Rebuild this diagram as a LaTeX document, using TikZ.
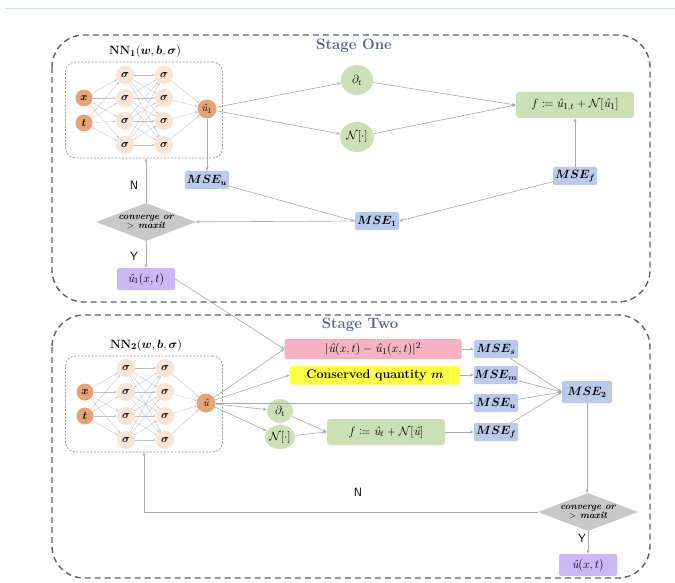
\documentclass[tikz,border=0pt]{standalone}
\usepackage{amsmath,amssymb,mathtools,bm}
\usetikzlibrary{shapes.geometric,arrows.meta}
\newcommand{\uh}{\text{\normalfont\itshape û}}
\definecolor{lineg}{RGB}{170,170,170}
\definecolor{dashc}{RGB}{92,98,114}
\definecolor{inorange}{RGB}{230,164,118}
\definecolor{hidpeach}{RGB}{250,228,212}
\definecolor{greenf}{RGB}{204,224,184}
\definecolor{bluef}{RGB}{186,202,234}
\definecolor{purpf}{RGB}{204,184,246}
\definecolor{pinkf}{RGB}{244,178,194}
\definecolor{yellf}{RGB}{255,255,70}
\definecolor{diamf}{RGB}{200,200,200}
\definecolor{stagec}{RGB}{72,100,150}
\definecolor{topg}{RGB}{200,232,210}
\begin{document}
\begin{tikzpicture}[x=1pt,y=-1pt,
  every node/.style={inner sep=1pt},
  conn/.style={draw=lineg, line width=0.6pt, -{Stealth[length=4pt,width=3pt]}},
  netline/.style={draw=lineg!75, line width=0.3pt, -{Stealth[length=2.5pt,width=2pt]}},
  stagebox/.style={draw=dashc, line width=1.4pt, dash pattern=on 6pt off 4pt, rounded corners=32},
  nnbox/.style={draw=gray!85, line width=0.7pt, dash pattern=on 2pt off 1.5pt, rounded corners=10, minimum width=157, minimum height=96},
  inode/.style={circle, fill=inorange, minimum size=17, inner sep=0, font=\fontsize{11}{11}\selectfont},
  hnode/.style={circle, fill=hidpeach, minimum size=18, inner sep=0, font=\fontsize{11}{11}\selectfont},
  mse/.style={rectangle, fill=bluef, rounded corners=2, minimum width=44, minimum height=18, inner sep=0.5pt, font=\fontsize{12}{12}\selectfont},
  gbox/.style={rectangle, fill=greenf, rounded corners=3, minimum height=26, inner sep=1pt, font=\fontsize{12.5}{12.5}\selectfont},
  gcirc/.style={ellipse, fill=greenf, inner sep=0, font=\fontsize{12}{12}\selectfont},
  pbox/.style={rectangle, fill=purpf, rounded corners=2, minimum width=58, minimum height=22, inner sep=1pt, font=\fontsize{12}{12}\selectfont},
  dia/.style={diamond, fill=diamf, aspect=2.6, inner sep=0, minimum width=100, minimum height=38, align=center, font=\fontsize{9.5}{9.5}\bfseries\itshape\selectfont},
  yn/.style={font=\sffamily\fontsize{12}{12}\selectfont},
  stitle/.style={font=\bfseries\fontsize{15}{15}\selectfont, text=stagec},
  nntitle/.style={font=\fontsize{13}{13}\selectfont}
]
\useasboundingbox (0,0) rectangle (675,583);
\fill[white] (0,0) rectangle (675,583);
\draw[topg, line width=0.8pt] (5,8) -- (675,8);

% ---------------- Stage One ----------------
\draw[stagebox] (52,35) rectangle (650,302);
\node[stitle] (st1) at (354,46) {Stage One};
\node[nntitle] (nn1t) at (145,52) {$\mathbf{NN}_{\mathbf{1}}(\bm{w},\bm{b},\bm{\sigma})$};
\node[nnbox] (nn1) at (144,110) {};
\node[inode] (s1x) at (84,98) {$\bm{x}$};
\node[inode] (s1t) at (84,123) {$\bm{t}$};
\foreach \i/\y in {1/75,2/98,3/121,4/145}{
  \node[hnode] (s1a\i) at (125,\y) {$\bm{\sigma}$};
  \node[hnode] (s1b\i) at (164,\y) {$\bm{\sigma}$};
}
\node[inode, minimum size=19] (s1o) at (207,109) {$\uh_1$};
\foreach \i in {1,...,4}{
  \draw[netline] (s1x) -- (s1a\i);
  \draw[netline] (s1t) -- (s1a\i);
  \foreach \j in {1,...,4}{\draw[netline] (s1a\i) -- (s1b\j);}
  \draw[netline] (s1b\i) -- (s1o);
}
\node[gcirc, minimum width=32, minimum height=30] (dt1) at (357,80) {$\partial_t$};
\node[gcirc, minimum width=34, minimum height=30] (nl1) at (357,137) {$\mathcal{N}[\cdot]$};
\node[gbox, minimum width=118] (f1) at (575,105) {$f \coloneqq \uh_{1,t} + \mathcal{N}[\uh_1]$};
\node[mse] (mseu1) at (207,180) {$\bm{MSE_u}$};
\node[mse] (msef1) at (575,176) {$\bm{MSE_f}$};
\node[mse] (mse1) at (377,221) {$\bm{MSE_1}$};
\node[dia] (d1) at (146,222) {converge or\\$>$ maxit};
\node[pbox] (u1) at (146,279) {$\uh_1(x,t)$};
\node[yn] (n1) at (134,185) {N};
\node[yn] (y1) at (134,256) {Y};

\draw[conn] (s1o) -- (dt1);
\draw[conn] (s1o) -- (nl1);
\draw[conn] (dt1) -- (f1.west);
\draw[conn] (nl1) -- (f1.west);
\draw[conn] (s1o) -- (mseu1);
\draw[conn] (msef1) -- (f1);
\draw[conn] (mseu1) -- (mse1.west);
\draw[conn] (msef1) -- (mse1.east);
\draw[conn] (mse1) -- (d1);
\draw[conn] (d1.north) -- (d1.north |- nn1.south);
\draw[conn] (d1) -- (u1);

% ---------------- Stage Two ----------------
\draw[stagebox] (52,315) rectangle (650,578);
\node[stitle] (st2) at (360,325) {Stage Two};
\node[nntitle] (nn2t) at (146,345) {$\mathbf{NN}_{\mathbf{2}}(\bm{w},\bm{b},\bm{\sigma})$};
\node[nnbox] (nn2) at (144,404) {};
\node[inode] (s2x) at (85,392) {$\bm{x}$};
\node[inode] (s2t) at (85,416) {$\bm{t}$};
\foreach \i/\y in {1/368,2/392,3/416,4/440}{
  \node[hnode] (s2a\i) at (126,\y) {$\bm{\sigma}$};
  \node[hnode] (s2b\i) at (165,\y) {$\bm{\sigma}$};
}
\node[inode, minimum size=19] (s2o) at (206,403) {$\uh$};
\foreach \i in {1,...,4}{
  \draw[netline] (s2x) -- (s2a\i);
  \draw[netline] (s2t) -- (s2a\i);
  \foreach \j in {1,...,4}{\draw[netline] (s2a\i) -- (s2b\j);}
  \draw[netline] (s2b\i) -- (s2o);
}
\node[rectangle, fill=pinkf, rounded corners=2, minimum width=177, minimum height=20, inner sep=1pt, font=\fontsize{13}{13}\selectfont] (pk) at (373,349) {$|\uh(x,t) - \uh_1(x,t)|^2$};
\node[rectangle, fill=yellf, rounded corners=2, minimum width=170, minimum height=19, inner sep=1pt, font=\bfseries\fontsize{12.5}{12.5}\selectfont] (yl) at (375,375) {Conserved quantity $\bm{m}$};
\node[gcirc, minimum width=26, minimum height=24] (dt2) at (280,411) {$\partial_t$};
\node[gcirc, minimum width=28, minimum height=24] (nl2) at (280,437) {$\mathcal{N}[\cdot]$};
\node[gbox, minimum width=118] (f2) at (386,432) {$f \coloneqq \uh_t + \mathcal{N}[\uh]$};
\node[mse] (mses) at (496,349) {$\bm{MSE_s}$};
\node[mse] (msem) at (496,375) {$\bm{MSE_m}$};
\node[mse] (mseu2) at (496,403) {$\bm{MSE_u}$};
\node[mse] (msef2) at (496,432) {$\bm{MSE_f}$};
\node[mse, minimum width=50, minimum height=22] (mse2) at (587,392) {$\bm{MSE_2}$};
\node[dia] (d2) at (588,512) {converge or\\$>$ maxit};
\node[pbox] (uo) at (588,565) {$\uh(x,t)$};
\node[yn] (n2) at (358,492) {N};
\node[yn] (y2) at (582,538) {Y};

\draw[conn] (u1.east) -- (pk.west);
\draw[conn] (s2o) -- (pk.west);
\draw[conn] (s2o) -- (yl.west);
\draw[conn] (s2o) -- (mseu2);
\draw[conn] (s2o) -- (dt2);
\draw[conn] (s2o) -- (nl2);
\draw[conn] (dt2) -- (f2.west);
\draw[conn] (nl2) -- (f2.west);
\draw[conn] (pk) -- (mses);
\draw[conn] (yl) -- (msem);
\draw[conn] (f2) -- (msef2);
\draw[conn] (mses) -- (mse2.west);
\draw[conn] (msem) -- (mse2.west);
\draw[conn] (mseu2) -- (mse2.west);
\draw[conn] (msef2) -- (mse2.west);
\draw[conn] (mse2.south) -- (mse2.south |- d2.north);
\draw[conn] (d2) -- (uo);
\draw[conn] (d2.west) -| (nn2.south);
\end{tikzpicture}
\end{document}
